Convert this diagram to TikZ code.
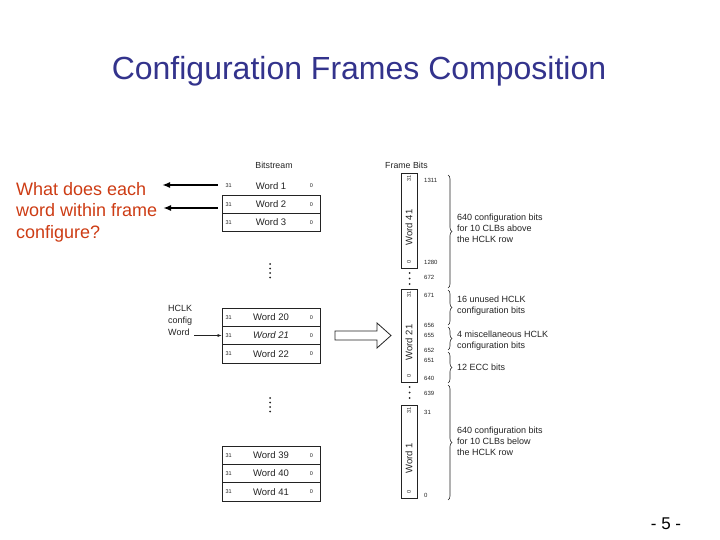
\documentclass[tikz,border=0pt]{standalone}
\usepackage{fontspec}
\setmainfont{Liberation Sans}
\usepackage{tikz}
\usetikzlibrary{arrows.meta,decorations.pathreplacing}

\definecolor{titleblue}{RGB}{51,51,140}
\definecolor{askred}{RGB}{205,60,20}
\definecolor{figink}{RGB}{35,35,35}

\tikzset{
  head/.style={font=\fontsize{8.8}{10}\selectfont, text=figink, inner sep=0pt},
  wordrow/.style={draw=figink, line width=0.8pt, minimum width=98pt, minimum height=18.4pt, inner sep=0pt, text=figink, font=\fontsize{9.5}{10}\selectfont},
  bitno/.style={font=\fontsize{5.5}{6}\selectfont, text=figink, inner sep=0pt},
  frameword/.style={draw=figink, line width=0.8pt, minimum width=16pt, inner sep=0pt},
  wordlbl/.style={rotate=90, font=\fontsize{9.5}{10}\selectfont, text=figink, inner sep=0pt},
  fbnum/.style={font=\fontsize{6}{7}\selectfont, text=figink, anchor=west, inner sep=0pt},
  fbtext/.style={font=\fontsize{9}{11}\selectfont, text=figink, align=left, anchor=west, inner sep=0pt},
  fbrace/.style={decorate, decoration={brace, amplitude=4pt}, draw=figink, line width=0.6pt},
  qarrow/.style={-{Latex[length=8pt,width=6pt]}, line width=1.6pt, shorten <=4pt}
}

\begin{document}
\begin{tikzpicture}[x=1pt, y=-1pt]
\useasboundingbox (0,0) rectangle (720,540);

% title and question
\node[font=\fontsize{32}{36}\selectfont, text=titleblue, anchor=base] (title) at (359,80) {Configuration Frames Composition};
\node[font=\fontsize{18}{21.5}\selectfont, text=askred, align=left, anchor=north west, inner sep=0pt] (ask) at (16,182) {What does each\\word within frame\\configure?};

% bitstream words
\node[head, anchor=base] (bshead) at (274,169) {Bitstream};
\node[wordrow, draw=none] (w1) at (271,185.8) {Word 1};
\foreach \n/\y in {2/204.2, 3/222.6, 20/317.2, 22/353.8, 39/455.2, 40/473.5, 41/491.8}
  \node[wordrow] (w\n) at (271,\y) {Word \n};
\node[wordrow, font=\fontsize{9.5}{10}\selectfont\itshape] (w21) at (271,335.5) {Word 21};
\foreach \n in {1,2,3,20,21,22,39,40,41} {
  \node[bitno] at ([xshift=7pt]w\n.west) {31};
  \node[bitno] at ([xshift=-9pt]w\n.east) {0};
}
\foreach \y in {264,268.5,273,277.5,398,402.5,407,411.5}
  \fill[figink] (270,\y) circle (1);

% arrows to the question
\coordinate (ask1) at (162,185);
\coordinate (ask2) at (163,208);
\draw[qarrow] (ask1 -| w1.west) -- (ask1);
\draw[qarrow] (ask2 -| w2.west) -- (ask2);

% HCLK word
\node[font=\fontsize{9}{12}\selectfont, text=figink, align=left, anchor=north west, inner sep=0pt] (hclk) at (168,305) {HCLK\\config\\Word};
\draw[figink, line width=0.5pt, -{Latex[length=4pt,width=3pt]}] ([xshift=2pt]hclk.east |- w21.west) -- (w21.west);

% hollow arrow
\draw[figink, line width=0.8pt] (335,331) -- (377,331) -- (377,323) -- (391,335.5) -- (377,348) -- (377,340) -- (335,340) -- cycle;

% frame bits
\node[head, anchor=base west] (fbhead) at (385,169) {Frame Bits};
\node[frameword, minimum height=95pt] (fw41) at (409,220.5) {};
\node[frameword, minimum height=93pt] (fw21) at (409,335.5) {};
\node[frameword, minimum height=93pt] (fw1) at (409,451.5) {};
\foreach \n in {41,21,1} {
  \node[wordlbl] at ([yshift=-7pt]fw\n.center) {Word \n};
  \node[bitno, rotate=90] at ([yshift=-6pt]fw\n.north) {31};
  \node[bitno, rotate=90] at ([yshift=6pt]fw\n.south) {0};
}
\foreach \y in {273,278.5,284,387,392.5,398}
  \fill[figink] (409.5,\y) circle (1);
\foreach \v/\y in {1311/180, 1280/262, 672/277, 671/295, 656/325, 655/335, 652/350, 651/360, 640/378, 639/393, 31/412, 0/495}
  \node[fbnum] at (424,\y) {\v};

% braces and notes
\draw[fbrace] (448,175) -- (448,288);
\draw[fbrace] (448,290) -- (448,325);
\draw[fbrace] (448,327) -- (448,350);
\draw[fbrace] (448,352) -- (448,383);
\draw[fbrace] (448,385) -- (448,500);
\node[fbtext] (noteA) at (457,228) {640 configuration bits\\for 10 CLBs above\\the HCLK row};
\node[fbtext] (noteB) at (457,306) {16 unused HCLK\\configuration bits};
\node[fbtext] (noteC) at (457,341) {4 miscellaneous HCLK\\configuration bits};
\node[fbtext] (noteD) at (457,367) {12 ECC bits};
\node[fbtext] (noteE) at (457,441) {640 configuration bits\\for 10 CLBs below\\the HCLK row};

% page number
\node[font=\fontsize{17}{20}\selectfont, anchor=base] (pageno) at (666,529) {- 5 -};
\end{tikzpicture}
\end{document}
